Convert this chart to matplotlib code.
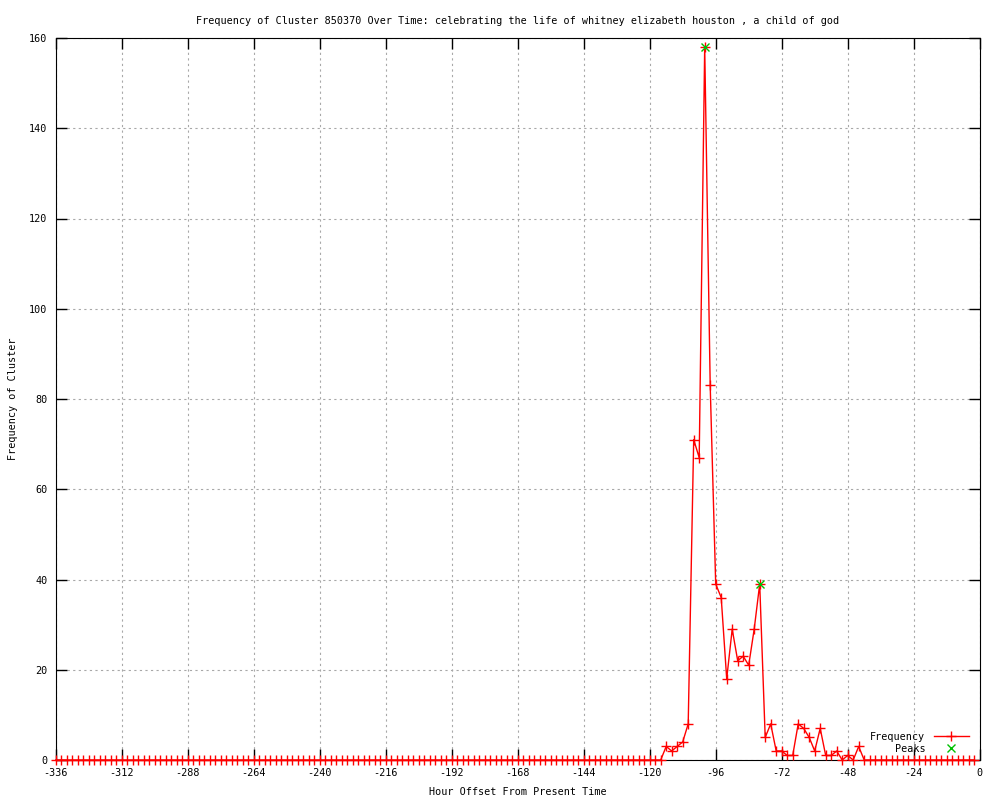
import numpy as np
import matplotlib
matplotlib.use('Agg')
import matplotlib.pyplot as plt

plt.rcParams['font.family'] = ['DejaVu Sans Mono']
plt.rcParams['font.size'] = 7.3
plt.rcParams['axes.unicode_minus'] = False

# hour offsets (every 2 hours) and frequency of the cluster
hours = np.arange(-336, 0, 2)
active_hours = [-114, -112, -110, -108, -106, -104, -102, -100, -98, -96,
                -94, -92, -90, -88, -86, -84, -82, -80, -78, -76,
                -74, -72, -70, -68, -66, -64, -62, -60, -58, -56,
                -54, -52, -50, -48, -46, -44]
active_freq = [3, 2, 3, 4, 8, 71, 67, 158, 83, 39,
               36, 18, 29, 22, 23, 21, 29, 39, 5, 8,
               2, 2, 1, 1, 8, 7, 5, 2, 7, 1,
               1, 2, 0, 1, 0, 3]
freq = np.zeros(len(hours))
for h, f in zip(active_hours, active_freq):
    freq[hours == h] = f

peak_hours = [-100, -80]
peak_freq = [158, 39]

fig = plt.figure(figsize=(10, 8), dpi=100)
ax = fig.add_axes([0.0557, 0.05, 0.924, 0.9025])

ax.plot(hours, freq, color='red', lw=1, marker='+', ms=7, mew=1,
        label='Frequency', clip_on=False, zorder=3)
ax.plot(peak_hours, peak_freq, ls='none', color='#00c000', marker='x', ms=6, mew=1,
        label='Peaks', clip_on=False, zorder=4)

ax.set_xlim(-336, 0)
ax.set_ylim(0, 160)
ax.set_xticks(np.arange(-336, 1, 24))
ax.set_yticks(np.arange(0, 161, 20))
ax.tick_params(direction='in', length=8, width=1, top=True, right=True, pad=6)
ax.grid(True, color='#a8a8a8', ls=(0, (2, 3)), lw=0.8)
ax.set_axisbelow(True)

ax.set_title('Frequency of Cluster 850370 Over Time: celebrating the life of whitney elizabeth houston , a child of god',
             fontsize=7.3, pad=10)
ax.set_xlabel('Hour Offset From Present Time', labelpad=6)
ax.set_ylabel('Frequency of Cluster', labelpad=8)

leg = ax.legend(loc='lower right', bbox_to_anchor=(0.995, 0.0), frameon=False,
                markerfirst=False, handlelength=3.5, borderaxespad=0.2,
                labelspacing=0.2, fontsize=7.3)
for t in leg.get_texts():
    t.set_ha('right')
leg._legend_box.align = 'right'

plt.savefig('out.png', dpi=100)
